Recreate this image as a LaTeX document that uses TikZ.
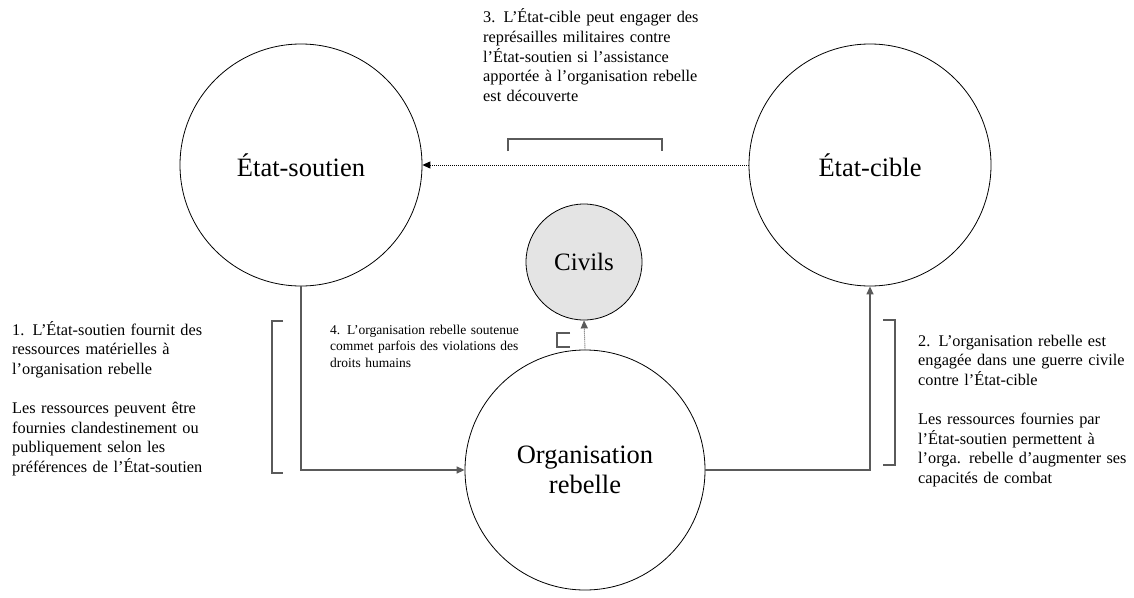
\documentclass[tikz,border=0pt]{standalone}
\usepackage{fontspec}
\setmainfont{Liberation Serif}
\usepackage{xcolor}
\definecolor{civilgray}{HTML}{E4E4E4}
\definecolor{linegray}{HTML}{5A5A5A}
\usetikzlibrary{arrows.meta}

\begin{document}
\begin{tikzpicture}[
  x=1pt, y=-1pt,
  party/.style={draw, circle, minimum size=242pt, inner sep=0pt, line width=0.8pt,
                align=center, font=\fontsize{26.5}{30}\selectfont},
  rebels/.style={party, minimum size=240pt},
  civils/.style={party, minimum size=116pt, fill=civilgray, font=\fontsize{25}{30}\selectfont},
  notebox/.style={anchor=base west, inner sep=0pt, align=left, text width=#1,
                  font=\fontsize{16.3}{19.6}\selectfont},
  smallnote/.style={notebox=#1, font=\fontsize{13.5}{16.7}\selectfont},
  arr/.style={-{Triangle[length=8pt,width=7pt]}, draw=linegray, line width=1.3pt},
  feed/.style={-{Triangle[length=8pt,width=7pt]}, line width=0.9pt,
               dash pattern=on 1pt off 1pt},
  brk/.style={draw=linegray, line width=1.1pt}
]
\useasboundingbox (0,0) rectangle (1134,597);

% acteurs
\node[party] (soutien) at (301,165) {État-soutien};
\node[party] (cible) at (870,165) {État-cible};
\node[rebels] (rebelle) at (585,470) {Organisation\\rebelle};
\node[civils] (civils) at (584,262) {Civils};

% textes
\node[notebox=300pt] (note3) at (483,23) {3. L'État-cible peut engager des\\
représailles militaires contre\\
l'État-soutien si l'assistance\\
apportée à l'organisation rebelle\\
est découverte};
\node[notebox=300pt] (note1) at (12,335) {1. L'État-soutien fournit des\\
ressources matérielles à\\
l'organisation rebelle\\[19.6pt]
Les ressources peuvent être\\
fournies clandestinement ou\\
publiquement selon les\\
préférences de l'État-soutien};
\node[notebox=300pt] (note2) at (918,346) {2. L'organisation rebelle est\\
engagée dans une guerre civile\\
contre l'État-cible\\[19.6pt]
Les ressources fournies par\\
l'État-soutien permettent à\\
l'orga. rebelle d'augmenter ses\\
capacités de combat};
\node[smallnote=300pt] (note4) at (330,334) {4. L'organisation rebelle soutenue\\
commet parfois des violations des\\
droits humains};

% crochets
\draw[brk] (283,321) -- (272,321) -- (272,473) -- (283,473);
\draw[brk] (883,320) -- (895,320) -- (895,465) -- (883,465);
\draw[brk] (508,151) -- (508,139) -- (662,139) -- (662,151);
\draw[brk] (570,333) -- (557,333) -- (557,347) -- (570,347);

% relations
\draw[arr] (soutien.south) |- (rebelle.west);
\draw[arr] (rebelle.east) -| (cible.south);
\draw[feed] (cible.west) -- (soutien.east);
\draw[feed, draw=linegray] (rebelle.north) -- (civils.south);
\end{tikzpicture}
\end{document}
